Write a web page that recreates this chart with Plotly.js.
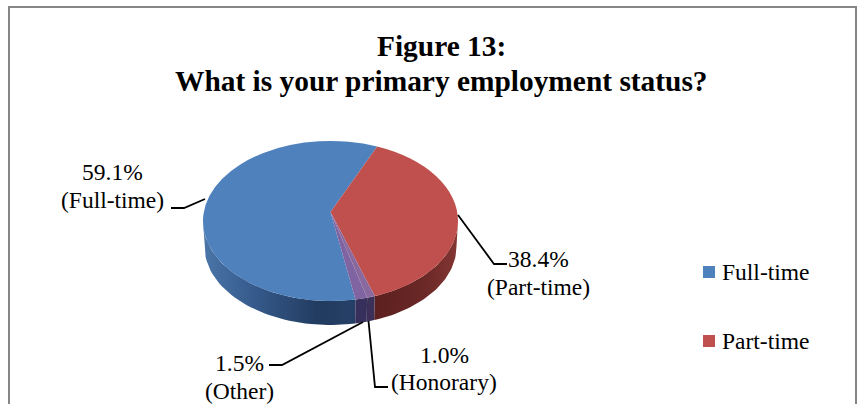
<!DOCTYPE html>
<html><head><meta charset="utf-8">
<script src="https://cdn.plot.ly/plotly-3.0.1.min.js"></script>
<style>html,body{margin:0;padding:0;background:#fff;overflow:hidden}#c{width:863px;height:404px}</style>
</head><body><div id="c"></div>
<script>
var categories = ["Full-time", "Part-time", "Honorary", "Other"];
var percents = [59.1, 38.4, 1.0, 1.5];
var sliceColors = ["#4F81BD", "#C0504D", "#8A6A9E", "#8064A2"];
var wallShades = [
  [[0, "#4a76a8"], [0.35, "#35598a"], [0.75, "#223c60"], [1, "#263f66"]],
  [[0, "#5c201f"], [0.6, "#6a2826"], [1, "#843634"]],
  [[0, "#3c3058"], [1, "#3c3058"]],
  [[0, "#37305c"], [1, "#37305c"]]
];
var legendCategories = ["Full-time", "Part-time"];
var titleLines = ["Figure 13:", "What is your primary employment status?"];

var SERIF = "'Liberation Serif','Times New Roman',serif";
var startAngle = 168.7;              // clockwise from 12 o'clock
var top3d = {cx: 330.5, cy: 221, rx: 127.5, ry: 80, apexLift: 9};
var bot3d = {cx: 330.5, cy: 246.5, rx: 126, ry: 78.5};

function pt(e, deg) {
  var t = deg * Math.PI / 180;
  return [e.cx + e.rx * Math.sin(t), e.cy - e.ry * Math.cos(t)];
}
function wallTrace(a0, a1, i) {
  var lo = Math.max(a0, 90), hi = Math.min(a1, 270), xs = [], ys = [], d, p;
  if (hi <= lo) return null;
  for (d = lo; d <= hi + 1e-6; d += (hi - lo) / 40) { p = pt(top3d, d); xs.push(p[0]); ys.push(p[1]); }
  for (d = hi; d >= lo - 1e-6; d -= (hi - lo) / 40) { p = pt(bot3d, d); xs.push(p[0]); ys.push(p[1]); }
  return {type: "scatter", mode: "lines", x: xs, y: ys, fill: "toself", line: {width: 0},
    fillgradient: {type: "horizontal", colorscale: wallShades[i]},
    hoverinfo: "skip", showlegend: false};
}

var traces = [], total = percents.reduce(function (s, v) { return s + v; }, 0), acc = startAngle;
percents.forEach(function (v, i) {
  var span = v / total * 360, a0 = acc, a1 = acc + span;
  [0, 360].forEach(function (off) {
    var tr = wallTrace(a0 - off, a1 - off, i);
    if (tr) traces.push(tr);
  });
  acc = a1;
});

traces.push({
  type: "pie", labels: categories, values: percents, sort: false, direction: "clockwise",
  rotation: startAngle, textinfo: "none", hoverinfo: "label+percent", showlegend: false,
  marker: {colors: sliceColors, line: {width: 0}},
  domain: {
    x: [(top3d.cx - top3d.rx) / 863, (top3d.cx + top3d.rx) / 863],
    y: [1 - (202 + top3d.rx) / 404, 1 - (202 - top3d.rx) / 404]
  }
});

function leader(pts) {
  return {type: "path", xref: "x", yref: "y", line: {color: "#000", width: 1.8},
    path: pts.map(function (p, i) { return (i ? "L" : "M") + p[0] + "," + p[1]; }).join(" ")};
}
function textAt(text, x, y, size, anchor) {
  return {xref: "x", yref: "y", x: x, y: y, showarrow: false, xanchor: anchor || "center", yanchor: "middle",
    text: text, font: {family: SERIF, size: size, color: "#000"}};
}

var shapes = [
  leader([[171, 208], [184, 208], [205, 199]]),
  leader([[458, 215], [494, 264], [507, 264]]),
  leader([[368.5, 321], [375, 387], [388, 387]]),
  leader([[363, 322], [282, 365], [269, 365]]),
  leader([[9, 404], [9, 7], [856, 7], [856, 404]])
];
shapes[4].line = {color: "#868686", width: 2};

var LABEL = 23.5;
var pctText = percents.map(function (v) { return v.toFixed(1) + "%"; });
var annotations = [
  textAt(pctText[0], 112, 172, LABEL), textAt("(" + categories[0] + ")", 112, 200, LABEL),
  textAt(pctText[1], 538, 259, LABEL), textAt("(" + categories[1] + ")", 538, 287, LABEL),
  textAt(pctText[2], 444, 355, LABEL), textAt("(" + categories[2] + ")", 444, 382, LABEL),
  textAt(pctText[3], 239, 363, LABEL), textAt("(" + categories[3] + ")", 239, 391, LABEL),
  textAt("<b>" + titleLines[0] + "</b>", 441, 46, 29.4),
  textAt("<b>" + titleLines[1] + "</b>", 441, 81, 29.4)
];
legendCategories.forEach(function (name, i) {
  var y = 272 + i * 69;
  shapes.push({type: "rect", xref: "x", yref: "y", x0: 703, x1: 715, y0: y - 6, y1: y + 6,
    fillcolor: sliceColors[i], line: {width: 0}});
  annotations.push(textAt(name, 720, y, LABEL, "left"));
});

var layout = {
  width: 863, height: 404, margin: {l: 0, r: 0, t: 0, b: 0},
  paper_bgcolor: "#fff", plot_bgcolor: "#fff", showlegend: false,
  xaxis: {range: [0, 863], visible: false, fixedrange: true},
  yaxis: {range: [404, 0], visible: false, fixedrange: true},
  shapes: shapes, annotations: annotations
};

Plotly.newPlot("c", traces, layout, {displayModeBar: false}).then(function () {
  // Tilt the pie into the reference's 3-D perspective: squash it and lift the apex.
  var s = top3d.ry / top3d.rx, root = document.getElementById("c");
  var tr = root.querySelector(".pielayer .trace");
  if (tr) tr.setAttribute("transform", "translate(0," + top3d.cy + ") scale(1," + s + ") translate(0,-202)");
  var lift = top3d.apexLift / s;
  root.querySelectorAll(".pielayer .surface").forEach(function (el) {
    var d = el.getAttribute("d");
    var m = d.match(/^M([-\d.]+),([-\d.]+)l([-\d.]+),([-\d.]+)/);
    if (!m) return;
    var ax = +m[1], ay = +m[2], dx = +m[3], dy = +m[4];
    el.setAttribute("d", "M" + ax + "," + (ay - lift) + "L" + (ax + dx) + "," + (ay + dy) + d.slice(m[0].length));
  });
});
</script></body></html>
